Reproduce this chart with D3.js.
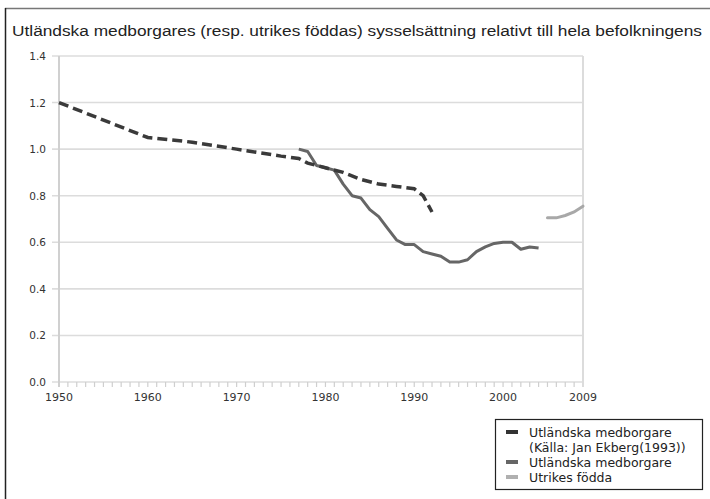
<!DOCTYPE html>
<html>
<head>
<meta charset="utf-8">
<script src="https://cdn.jsdelivr.net/npm/d3@7"></script>
<style>
  body { margin:0; background:#fff; }
  svg text { font-family: "DejaVu Sans", sans-serif; fill:#333; }
</style>
</head>
<body>
<svg id="board" width="710" height="499"></svg>
<script>
  // Ekberg (1993), dashed
  var ekbergYears  = [1950, 1960, 1965, 1970, 1975, 1977, 1978, 1980, 1982, 1984, 1986, 1988, 1990, 1991, 1992]
  var ekbergValues = [1.20, 1.05, 1.03, 1.00, 0.97, 0.96, 0.94, 0.92, 0.90, 0.87, 0.85, 0.84, 0.83, 0.80, 0.73]

  // Utländska medborgare, solid
  var medbYears  = [1977, 1978, 1979, 1980, 1981, 1982, 1983, 1984, 1985, 1986, 1987, 1988, 1989, 1990, 1991, 1992, 1993, 1994, 1995, 1996, 1997, 1998, 1999, 2000, 2001, 2002, 2003, 2004]
  var medbValues = [1.00, 0.99, 0.93, 0.92, 0.91, 0.85, 0.80, 0.79, 0.74, 0.71, 0.66, 0.61, 0.59, 0.59, 0.56, 0.55, 0.54, 0.515, 0.515, 0.525, 0.56, 0.58, 0.595, 0.60, 0.60, 0.57, 0.58, 0.575]

  // Utrikes födda
  var utrYears  = [2005, 2006, 2007, 2008, 2009]
  var utrValues = [0.705, 0.705, 0.715, 0.73, 0.755]

  var yTicks = [0, 0.2, 0.4, 0.6, 0.8, 1.0, 1.2, 1.4]
  var xTickLabels = [1950, 1960, 1970, 1980, 1990, 2000, 2009]

  var title = "Utländska medborgares (resp. utrikes föddas) sysselsättning relativt till hela befolkningens"
  var legendLines = ["Utländska medborgare", "(Källa: Jan Ekberg(1993))", "Utländska medborgare", "Utrikes födda"]

  var svg = d3.select("#board")

  var x = d3.scaleLinear().domain([1950, 2009]).range([59, 583])
  var y = d3.scaleLinear().domain([0, 1.4]).range([382, 56])

  // outer frame
  svg.append("line").attr("x1",5).attr("x2",710).attr("y1",8.5).attr("y2",8.5).attr("stroke","#777").attr("stroke-width",1.5)
  svg.append("line").attr("x1",5.5).attr("x2",5.5).attr("y1",8).attr("y2",499).attr("stroke","#222").attr("stroke-width",1.5)

  svg.append("text").attr("x",12).attr("y",36).attr("textLength",690).attr("lengthAdjust","spacingAndGlyphs")
    .style("font-family","'Liberation Sans', Arial, sans-serif").style("font-size","15.5px").style("fill","#222")
    .text(title)

  // horizontal gridlines + y ticks
  svg.selectAll(".grid").data(yTicks).enter().append("line")
    .attr("x1",52).attr("x2",583).attr("y1",function(d){return y(d)}).attr("y2",function(d){return y(d)})
    .attr("stroke","#dcdcdc").attr("stroke-width",1.6)

  svg.selectAll(".ylab").data(yTicks).enter().append("text")
    .attr("x",46).attr("y",function(d){return y(d)+4}).attr("text-anchor","end")
    .style("font-size","10.5px").text(function(d){return d.toFixed(1)})

  // axis line and right border
  svg.append("line").attr("x1",x(1950)).attr("x2",x(1950)).attr("y1",y(1.4)).attr("y2",y(0)+5).attr("stroke","#d0d0d0").attr("stroke-width",2)
  svg.append("line").attr("x1",x(2009)).attr("x2",x(2009)).attr("y1",y(1.4)).attr("y2",y(0)+5).attr("stroke","#dcdcdc").attr("stroke-width",2)

  // yearly ticks
  svg.selectAll(".xt").data(d3.range(1951, 2009)).enter().append("line")
    .attr("x1",function(d){return x(d)}).attr("x2",function(d){return x(d)})
    .attr("y1",y(0)).attr("y2",y(0)+5).attr("stroke","#cfcfcf").attr("stroke-width",1.2)

  svg.selectAll(".xlab").data(xTickLabels).enter().append("text")
    .attr("x",function(d){return x(d)}).attr("y",y(0)+19).attr("text-anchor","middle")
    .style("font-size","11px").text(function(d){return d})

  var line = d3.line().x(function(d){return x(d[0])}).y(function(d){return y(d[1])})

  svg.append("path").datum(d3.zip(utrYears, utrValues)).attr("d",line)
    .attr("fill","none").attr("stroke","#a8a8a8").attr("stroke-width",3).attr("stroke-linecap","round")

  svg.append("path").datum(d3.zip(medbYears, medbValues)).attr("d",line)
    .attr("fill","none").attr("stroke","#666").attr("stroke-width",3).attr("stroke-linejoin","round")

  svg.append("path").datum(d3.zip(ekbergYears, ekbergValues)).attr("d",line)
    .attr("fill","none").attr("stroke","#3a3a3a").attr("stroke-width",3.5).attr("stroke-dasharray","10,5")

  // legend
  svg.append("rect").attr("x",495.5).attr("y",419.5).attr("width",207).attr("height",70)
    .attr("fill","#fff").attr("stroke","#222").attr("stroke-width",1.2)

  var swatchColors = ["#333", null, "#666", "#b0b0b0"]
  legendLines.forEach(function(t, i){
    var ly = 432 + i*15
    if(swatchColors[i]){
      svg.append("rect").attr("x",506).attr("y",ly-2).attr("width",12).attr("height",4).attr("fill",swatchColors[i])
    }
    svg.append("text").attr("x",529).attr("y",ly+4.5).style("font-size","12.5px").style("fill","#222").text(t)
  })
</script>
</body>
</html>
